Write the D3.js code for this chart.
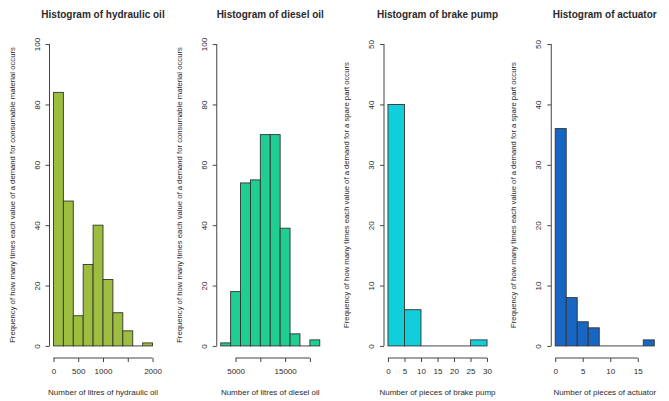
<!DOCTYPE html>
<html>
<head>
<meta charset="utf-8">
<script src="https://cdn.jsdelivr.net/npm/d3@7"></script>
<style>
  body { margin: 0; background: #fff; }
  text { font-family: "Liberation Sans", Arial, sans-serif; }
</style>
</head>
<body>
<svg id="chart" width="669" height="401"></svg>
<script>
// histogram data
let titles = ["Histogram of hydraulic oil", "Histogram of diesel oil", "Histogram of brake pump", "Histogram of actuator"];
let xLabels = ["Number of litres of hydraulic oil", "Number of litres of diesel oil",
  "Number of pieces of brake pump", "Number of pieces of actuator"];
let yLabels = ["Frequency of how many times each value of a demand for consumable material occurs",
  "Frequency of how many times each value of a demand for consumable material occurs",
  "Frequency of how many times each value of a demand for a spare part occurs",
  "Frequency of how many times each value of a demand for a spare part occurs"];

let hydraulicBreaks = [0, 200, 400, 600, 800, 1000, 1200, 1400, 1600, 1800, 2000];
let hydraulicCounts = [84, 48, 10, 27, 40, 22, 11, 5, 0, 1];
let dieselBreaks = [2000, 4000, 6000, 8000, 10000, 12000, 14000, 16000, 18000, 20000, 22000];
let dieselCounts = [1, 18, 54, 55, 70, 70, 39, 4, 0, 2];
let brakeBreaks = [0, 5, 10, 15, 20, 25, 30];
let brakeCounts = [40, 6, 0, 0, 0, 1];
let actuatorBreaks = [0, 2, 4, 6, 8, 10, 12, 14, 16, 18];
let actuatorCounts = [36, 8, 4, 3, 0, 0, 0, 0, 1];

let xTicks = [[0, 500, 1000, 1500, 2000], [5000, 10000, 15000, 20000],
  [0, 5, 10, 15, 20, 25, 30], [0, 5, 10, 15]];
let xTickLabels = [["0", "500", "1000", "", "2000"], ["5000", "", "15000", ""],
  ["0", "5", "10", "15", "20", "25", "30"], ["0", "5", "10", "15"]];
let yTicks = [[0, 20, 40, 60, 80, 100], [0, 20, 40, 60, 80, 100],
  [0, 10, 20, 30, 40, 50], [0, 10, 20, 30, 40, 50]];
let yMax = [100, 100, 50, 50];

let colors = ["#9dbd3f", "#1fcf91", "#10cfda", "#1866c4"];
let breaks = [hydraulicBreaks, dieselBreaks, brakeBreaks, actuatorBreaks];
let counts = [hydraulicCounts, dieselCounts, brakeCounts, actuatorCounts];

let svg = d3.select("#chart");
let panelW = 669 / 4;
let plotLeft = 49.5, plotW = 107;
let plotTop = 32, plotBottom = 358;
let ink = "#2a2a2a", axisInk = "#444";

for (let p = 0; p < 4; p++) {
  let g = svg.append("g").attr("transform", "translate(" + (p * panelW + plotLeft) + ",0)");
  let b = breaks[p];
  let lo = b[0], hi = b[b.length - 1];
  let pad = (hi - lo) * 0.04;

  let x = d3.scaleLinear().domain([lo - pad, hi + pad]).range([0, plotW]);
  let ypad = yMax[p] * 0.04;
  let y = d3.scaleLinear().domain([-ypad, yMax[p] + ypad]).range([plotBottom, plotTop]);

  // bins (empty bins still leave their bottom edge, like R)
  let bins = counts[p].map((c, i) => ({ x0: b[i], x1: b[i + 1], n: c }));
  g.selectAll("rect.bar")
    .data(bins.filter(d => d.n > 0))
    .enter()
    .append("rect")
    .attr("class", "bar")
    .attr("x", d => x(d.x0))
    .attr("width", d => x(d.x1) - x(d.x0))
    .attr("y", d => y(d.n))
    .attr("height", d => y(0) - y(d.n))
    .attr("fill", colors[p])
    .attr("stroke", "#333")
    .attr("stroke-width", 0.9);

  g.selectAll("line.empty")
    .data(bins.filter(d => d.n === 0))
    .enter()
    .append("line")
    .attr("class", "empty")
    .attr("x1", d => x(d.x0))
    .attr("x2", d => x(d.x1))
    .attr("y1", y(0))
    .attr("y2", y(0))
    .attr("stroke", "#333")
    .attr("stroke-width", 0.9);

  // x axis, line only between first and last tick
  let xt = xTicks[p];
  let xAxis = g.append("g")
    .attr("transform", "translate(0," + plotBottom + ")")
    .call(d3.axisBottom(x)
      .tickValues(xt)
      .tickFormat((d, i) => xTickLabels[p][i])
      .tickSizeOuter(0)
      .tickSize(4)
      .tickPadding(6));
  xAxis.select(".domain").remove();
  xAxis.append("line")
    .attr("x1", x(xt[0])).attr("x2", x(xt[xt.length - 1]))
    .attr("stroke", axisInk);
  xAxis.selectAll(".tick line").attr("stroke", axisInk);
  xAxis.selectAll("text").style("font-size", "8px").style("fill", ink);

  // y axis
  let yt = yTicks[p];
  let yAxis = g.append("g")
    .call(d3.axisLeft(y)
      .tickValues(yt)
      .tickSizeOuter(0)
      .tickSize(4));
  yAxis.select(".domain").remove();
  yAxis.append("line")
    .attr("y1", y(yt[0])).attr("y2", y(yt[yt.length - 1]))
    .attr("stroke", axisInk);
  yAxis.selectAll(".tick line").attr("stroke", axisInk);
  yAxis.selectAll("text")
    .style("font-size", "8px")
    .style("fill", ink)
    .attr("x", 0).attr("dy", null)
    .attr("text-anchor", "middle")
    .attr("transform", "translate(-10,0) rotate(-90)");

  // title
  g.append("text")
    .attr("x", plotW / 2)
    .attr("y", 18)
    .attr("text-anchor", "middle")
    .style("font-size", "10px")
    .style("font-weight", "bold")
    .style("fill", ink)
    .text(titles[p]);

  // x label
  g.append("text")
    .attr("x", plotW / 2)
    .attr("y", 395)
    .attr("text-anchor", "middle")
    .style("font-size", "8px")
    .style("fill", ink)
    .text(xLabels[p]);

  // y label
  g.append("text")
    .attr("transform", "translate(-35," + ((plotTop + plotBottom) / 2) + ") rotate(-90)")
    .attr("text-anchor", "middle")
    .style("font-size", "7.7px")
    .style("fill", ink)
    .text(yLabels[p]);
}
</script>
</body>
</html>
